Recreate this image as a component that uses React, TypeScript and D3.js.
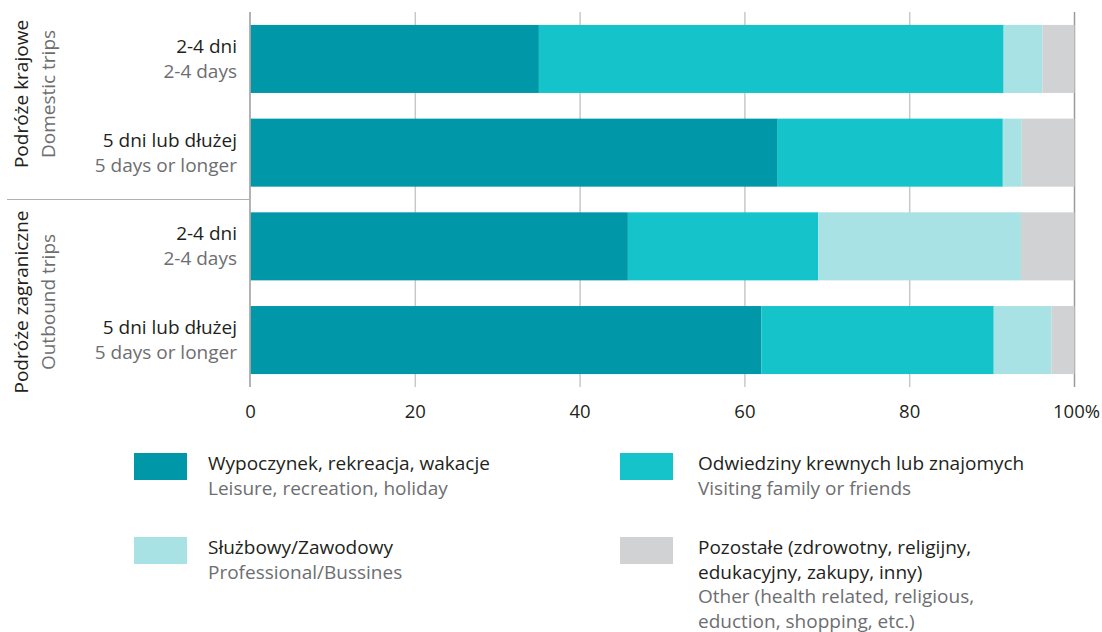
import React from "react";
import * as d3 from "d3";

const categories = ["dom24", "dom5", "out24", "out5"];
const catLabelsPl = ["2-4 dni", "5 dni lub dłużej", "2-4 dni", "5 dni lub dłużej"];
const catLabelsEn = ["2-4 days", "5 days or longer", "2-4 days", "5 days or longer"];
const seriesKeys = ["leisure", "visiting", "professional", "other"];
const leisure = [35.0, 63.9, 45.8, 62.0];
const visiting = [56.4, 27.4, 23.1, 28.2];
const professional = [4.7, 2.3, 24.6, 7.0];
const other = [3.9, 6.4, 6.5, 2.8];
const ticks = [0, 20, 40, 60, 80, 100];
const colors = ["#0098a8", "#14c4ca", "#a8e2e4", "#d1d2d4"];
const groupsPl = ["Podróże krajowe", "Podróże zagraniczne"];
const groupsEn = ["Domestic trips", "Outbound trips"];
const legendPl = [
  ["Wypoczynek, rekreacja, wakacje"],
  ["Odwiedziny krewnych lub znajomych"],
  ["Służbowy/Zawodowy"],
  ["Pozostałe (zdrowotny, religijny,", "edukacyjny, zakupy, inny)"],
];
const legendEn = [
  ["Leisure, recreation, holiday"],
  ["Visiting family or friends"],
  ["Professional/Bussines"],
  ["Other (health related, religious,", "eduction, shopping, etc.)"],
];

const FONT = "'Open Sans', sans-serif";
const DARK = "#231f20";
const GREY = "#6d6e71";

export default function App() {
  const x = d3.scaleLinear().domain([0, 100]).range([250.5, 1074.5]);
  const y = d3.scaleBand().domain(categories).range([12, 387]).paddingInner(0.274).paddingOuter(0.138);
  const table = categories.map((c, i) => ({
    cat: c,
    leisure: leisure[i],
    visiting: visiting[i],
    professional: professional[i],
    other: other[i],
  }));
  const stacked = d3.stack<any>().keys(seriesKeys)(table);

  return (
    <svg width={1102} height={632} style={{ position: "absolute", left: 0, top: 0, background: "#fff" }} fontFamily={FONT}>
      {ticks.slice(1).map((t) => (
        <line key={t} x1={x(t)} x2={x(t)} y1={12} y2={387} stroke={t === 100 ? "#9a9a9a" : "#c8c8c8"} strokeWidth={1.5} />
      ))}
      {stacked.map((s, si) => (
        <g key={s.key} fill={colors[si]}>
          {s.map((d, i) => (
            <rect key={i} x={x(d[0])} y={y(categories[i])} width={Math.max(0, x(d[1]) - x(d[0]))} height={y.bandwidth()} />
          ))}
        </g>
      ))}
      <line x1={250} x2={250} y1={12} y2={387} stroke="#9a9a9a" strokeWidth={1.5} />
      <line x1={7} x2={250} y1={199.5} y2={199.5} stroke="#b0b0b0" strokeWidth={1} />
      {ticks.map((t) => (
        <text key={t} x={t === 100 ? x(t) + 2 : x(t)} y={418} textAnchor="middle" fontSize={18.5} fill={DARK}>
          {t === 100 ? "100%" : t}
        </text>
      ))}
      {categories.map((c, i) => {
        const cy = (y(c) as number) + y.bandwidth() / 2;
        return (
          <g key={c}>
            <text x={237} y={cy - 6} textAnchor="end" fontSize={19} fill={DARK}>{catLabelsPl[i]}</text>
            <text x={237} y={cy + 19} textAnchor="end" fontSize={19} fill={GREY}>{catLabelsEn[i]}</text>
          </g>
        );
      })}
      {groupsPl.map((g, gi) => {
        const cy = gi === 0 ? 94 : 302;
        return (
          <g key={g}>
            <text transform={`translate(28,${cy}) rotate(-90)`} textAnchor="middle" fontSize={19} fill={DARK}>{g}</text>
            <text transform={`translate(55,${cy}) rotate(-90)`} textAnchor="middle" fontSize={19} fill={GREY}>{groupsEn[gi]}</text>
          </g>
        );
      })}
      {seriesKeys.map((k, i) => {
        const col = i % 2;
        const row = Math.floor(i / 2);
        const sx = col === 0 ? 134 : 620;
        const sy = row === 0 ? 453 : 537;
        const tx = col === 0 ? 208 : 698;
        const lines = [
          ...legendPl[i].map((t) => ({ t, c: DARK })),
          ...legendEn[i].map((t) => ({ t, c: GREY })),
        ];
        return (
          <g key={k}>
            <rect x={sx} y={sy} width={53} height={27} fill={colors[i]} />
            {lines.map((l, li) => (
              <text key={li} x={tx} y={sy + 17 + li * 24.5} fontSize={19} fill={l.c}>{l.t}</text>
            ))}
          </g>
        );
      })}
    </svg>
  );
}
